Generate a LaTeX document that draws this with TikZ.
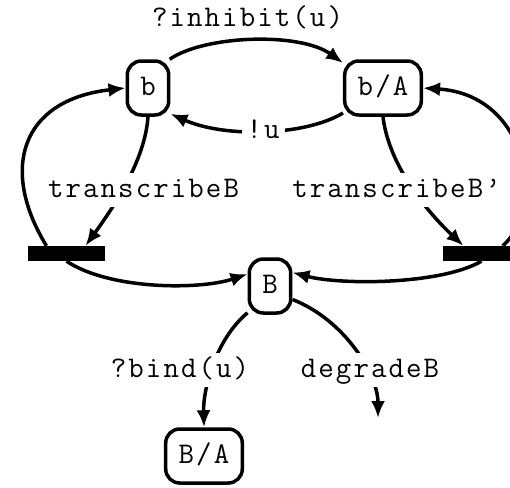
\documentclass[tikz,border=0pt]{standalone}
\usepackage{fontspec}
\setmonofont[LetterSpace=7]{Latin Modern Mono}
\usetikzlibrary{arrows.meta}
\newcommand{\lbl}{\ttfamily\fontsize{30}{34}\selectfont}
\tikzset{
  state/.style={draw, line width=3.5pt, rounded corners=14pt, fill=white,
    inner xsep=13pt, inner ysep=0pt, minimum height=54pt,
    text height=19pt, text depth=5pt, font=\lbl},
  syncbar/.style={fill=black, draw=none, inner sep=0pt,
    minimum width=77pt, minimum height=15pt},
  edge/.style={line width=3.5pt, -{Latex[length=17pt,width=14pt]}},
  lab/.style={fill=white, inner xsep=5pt, inner ysep=5pt, anchor=base,
    text height=19pt, text depth=5pt, font=\lbl},
}
\begin{document}
\begin{tikzpicture}[x=1pt,y=-1pt]
\useasboundingbox (0,0) rectangle (510,487);

% states
\node[state] (b)  at (148,88)  {b};
\node[state] (bA) at (383,88)  {b/A};
\node[state] (B)  at (270,286) {B};
\node[state] (BA) at (204,456) {B/A};

% synchronisation bars
\node[syncbar] (lbar) at (66.5,253.5) {};
\node[syncbar] (rbar) at (481.5,253.5) {};

\coordinate (gone) at (378,418);

% transitions
\draw[edge] (b.53) .. controls (205,35) and (300,32) .. (bA.148);
\draw[edge] (bA.212) .. controls (305,136) and (225,138) .. (b.311);
\draw[edge] (b.south) .. controls (145,160) and (115,205) .. (lbar.22);
\draw[edge] (lbar.159) .. controls (0,170) and (20,100) .. (b.west);
\draw[edge] (lbar.south) .. controls (110,290) and (200,290) .. (B.152);
\draw[edge] (bA.south) .. controls (388,160) and (420,205) .. (rbar.157);
\draw[edge] (rbar.20) .. controls (545,210) and (530,95) .. (bA.east);
\draw[edge] (rbar.south) .. controls (440,285) and (340,285) .. (B.31);
\draw[edge] (B.230) .. controls (215,340) and (203,390) .. (BA.north);
\draw[edge] (B.329) .. controls (345,320) and (378,375) .. (gone);

% transition labels
\node[lab] (l1) at (247.5,27) {?inhibit(u)};
\node[lab] (l2) at (263,138) {!u};
\node[lab] (l3) at (143.5,197) {transcribeB};
\node[lab] (l4) at (396.5,197) {transcribeB’};
\node[lab] (l5) at (180,377) {?bind(u)};
\node[lab] (l6) at (370,377) {degradeB};
\end{tikzpicture}
\end{document}
